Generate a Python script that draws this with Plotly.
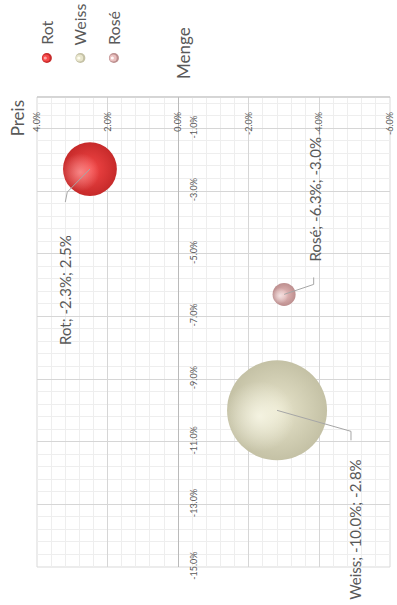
import plotly.graph_objects as go

# Veränderung gegenüber Vorjahr je Weinsorte (in %)
sorten = ["Rot", "Weiss", "Rosé"]
menge = [-2.3, -10.0, -6.3]
preis = [2.5, -2.8, -3.0]
blasengroesse = [29, 100, 5.3]

preis_ticks = [4, 2, 0, -2, -4, -6]
menge_ticks = [-1, -3, -5, -7, -9, -11, -13, -15]

# Kugelfarben: Grundton, Rand, Glanzlicht (RGB)
farben = {
    "Rot":   ((246, 72, 72), (198, 42, 42), (255, 165, 165)),
    "Weiss": ((232, 229, 204), (196, 193, 165), (255, 254, 240)),
    "Rosé":  ((234, 192, 191), (188, 142, 142), (255, 248, 248)),
}

# Beschriftungen: Pixelversatz von der Blasenmitte (dx, dy nach unten)
label_layout = {
    "Rot":   dict(knick=(-23, 23), ende=(-25, 33), text=(-25, 64), anker="top"),
    "Weiss": dict(knick=(75, 21), ende=(75, 30), text=(78, 47), anker="top"),
    "Rosé":  dict(knick=(30, -10), ende=(30, -17), text=(31, -31), anker="bottom"),
}

FIG_W, FIG_H = 397, 605
M_L, M_R, M_T, M_B = 37, 2, 97, 38
PLOT_W = FIG_W - M_L - M_R
PLOT_H = FIG_H - M_T - M_B
PREIS_RANGE = [4, -6]
MENGE_RANGE = [-15, 0]

FONT = "Lato"
GRAU = "#595959"
SIZEREF = 0.02


def rgb(c, a=1.0):
    return f"rgba({c[0]},{c[1]},{c[2]},{a})"


def verschiebe(p, m, dx, dy):
    """Datenpunkt um Pixel verschieben (dy positiv = nach unten)."""
    p_neu = p + dx * (PREIS_RANGE[1] - PREIS_RANGE[0]) / PLOT_W
    m_neu = m - dy * (MENGE_RANGE[1] - MENGE_RANGE[0]) / PLOT_H
    return p_neu, m_neu


def px_zu_paper(px, py):
    return (px - M_L) / PLOT_W, 1 - (py - M_T) / PLOT_H


def durchmesser(g):
    return (2 * g / SIZEREF) ** 0.5


fig = go.Figure()

# Blasen als Kugeln: Grundkugel mit radialem Verlauf + versetztes Glanzlicht
for name, m, p, g in zip(sorten, menge, preis, blasengroesse):
    grund, rand, glanz = farben[name]
    d = durchmesser(g)
    fig.add_trace(go.Scatter(
        x=[p], y=[m], mode="markers", name=name, showlegend=False,
        hoverinfo="skip",
        marker=dict(size=[g], sizemode="area", sizeref=SIZEREF,
                    color=rgb(rand), line=dict(width=0), opacity=1,
                    gradient=dict(type="radial", color=rgb(grund))),
    ))
    gp, gm = verschiebe(p, m, -0.36 * d / 2, 0.12 * d / 2)
    fig.add_trace(go.Scatter(
        x=[gp], y=[gm], mode="markers", showlegend=False, hoverinfo="skip",
        marker=dict(size=[g * 0.5], sizemode="area", sizeref=SIZEREF,
                    color=rgb(glanz, 0), line=dict(width=0),
                    gradient=dict(type="radial", color=rgb(glanz, 1))),
    ))

# Führungslinien und Datenbeschriftungen
for name, m, p in zip(sorten, menge, preis):
    lay = label_layout[name]
    k = verschiebe(p, m, *lay["knick"])
    e = verschiebe(p, m, *lay["ende"])
    fig.add_trace(go.Scatter(
        x=[p, k[0], e[0]], y=[m, k[1], e[1]], mode="lines",
        line=dict(color="#a6a6a6", width=1), showlegend=False, hoverinfo="skip",
    ))
    tdx, tdy = lay["text"]
    fig.add_annotation(
        x=p, y=m, xref="x", yref="y", showarrow=False,
        text=f"{name}; {m:.1f}%; {p:.1f}%", textangle=-90,
        xshift=tdx, yshift=-tdy, xanchor="center", yanchor=lay["anker"],
        font=dict(family=FONT, size=15, color=GRAU),
    )

# Legende (gedreht) oberhalb der Zeichenfläche
legende_x = [47, 81, 115]
for name, lx in zip(sorten, legende_x):
    grund, rand, glanz = farben[name]
    mx, my = px_zu_paper(lx, 58)
    for r, farbe, versatz in [(5, rand, 0), (3.6, grund, -0.8), (1.6, glanz, -1.6)]:
        fig.add_shape(
            type="circle", xref="paper", yref="paper",
            xsizemode="pixel", ysizemode="pixel", xanchor=mx, yanchor=my,
            x0=versatz - r, x1=versatz + r, y0=-r, y1=r,
            fillcolor=rgb(farbe), line=dict(width=0),
        )
    ax, ay = px_zu_paper(lx, 47)
    fig.add_annotation(
        x=ax, y=ay, xref="paper", yref="paper", showarrow=False, text=name,
        textangle=-90, xanchor="center", yanchor="bottom",
        font=dict(family=FONT, size=16, color=GRAU),
    )

# Achsentitel
for titel, (tx, ty) in [("Preis", (17, 118)), ("Menge", (185, 53))]:
    ax, ay = px_zu_paper(tx, ty)
    fig.add_annotation(
        x=ax, y=ay, xref="paper", yref="paper", showarrow=False, text=titel,
        textangle=-90, xanchor="center", yanchor="middle",
        font=dict(family=FONT, size=17, color=GRAU),
    )

# Rahmen der Zeichenfläche
fig.add_shape(type="rect", xref="paper", yref="paper", x0=0, x1=1, y0=0, y1=1,
              line=dict(color="#d9d9d9", width=1), layer="below")
fig.add_shape(type="line", xref="paper", yref="paper", x0=0, x1=1, y0=1, y1=1,
              line=dict(color="#bfbfbf", width=1))

null_frac = (0 - PREIS_RANGE[0]) / (PREIS_RANGE[1] - PREIS_RANGE[0])

fig.update_layout(
    width=FIG_W, height=FIG_H,
    margin=dict(l=M_L, r=M_R, t=M_T, b=M_B, pad=0),
    paper_bgcolor="white", plot_bgcolor="white",
    showlegend=False,
    font=dict(family=FONT, color=GRAU),
    xaxis=dict(
        range=PREIS_RANGE, side="top",
        ticklabelposition="inside", ticklabeloverflow="allow",
        ticklabelstandoff=7,
        tickvals=preis_ticks, ticktext=[f"{v:.1f}%" for v in preis_ticks],
        tickangle=-90, tickfont=dict(size=9, color=GRAU), ticks="",
        showgrid=True, gridcolor="#d6d6d6", gridwidth=1,
        zeroline=True, zerolinecolor="#bababa", zerolinewidth=1,
        showline=False,
        minor=dict(tickmode="linear", tick0=0, dtick=0.4, showgrid=True,
                   gridcolor="#eeeeee", gridwidth=1),
    ),
    yaxis=dict(
        range=MENGE_RANGE, anchor="free", position=null_frac,
        side="right", ticklabeloverflow="allow",
        tickvals=menge_ticks, ticktext=[f"{v:.1f}%" for v in menge_ticks],
        tickangle=-90, tickfont=dict(size=9, color=GRAU), ticks="",
        ticklabelstandoff=9,
        showgrid=True, gridcolor="#d6d6d6", gridwidth=1,
        zeroline=False, showline=False,
        minor=dict(tickmode="linear", tick0=-1, dtick=0.4, showgrid=True,
                   gridcolor="#eeeeee", gridwidth=1),
    ),
)

fig.write_html("out.html")
